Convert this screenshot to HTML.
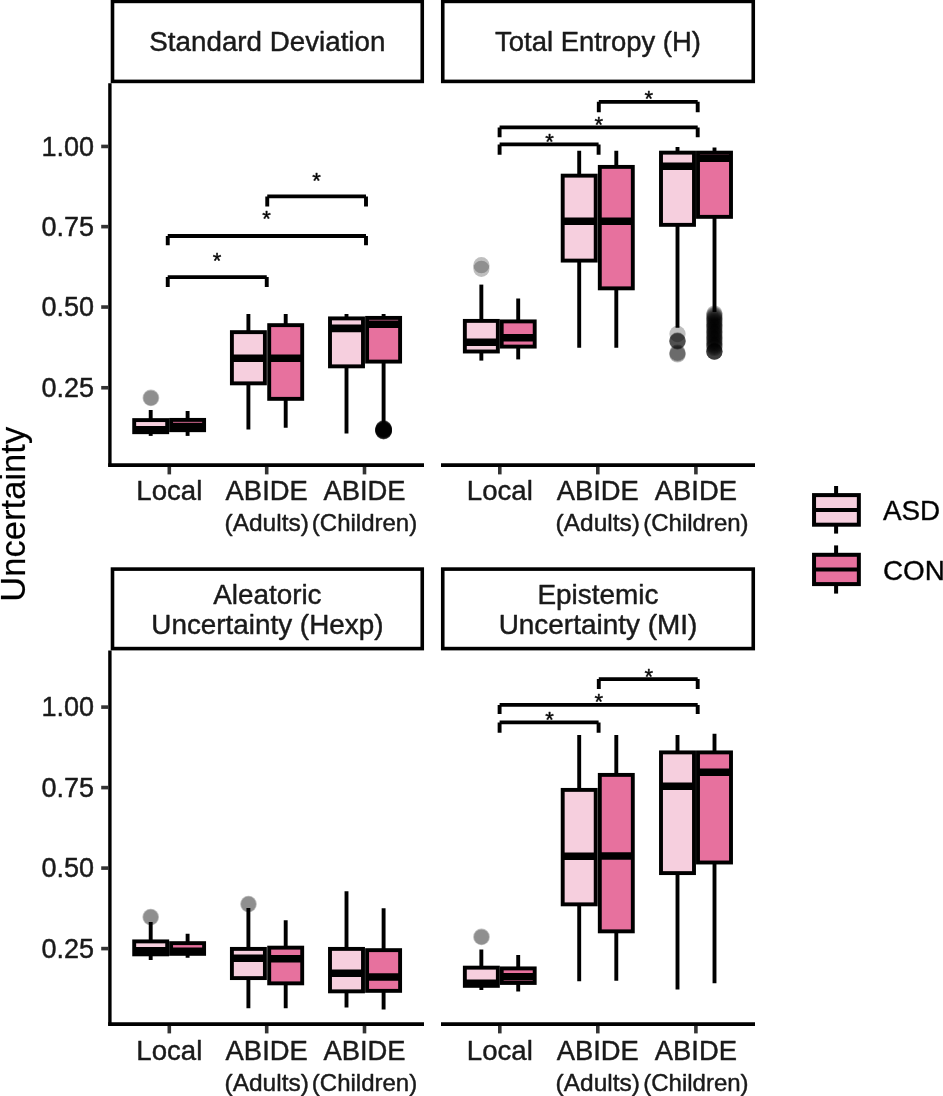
<!DOCTYPE html>
<html lang="en"><head><meta charset="utf-8"><title>Uncertainty boxplots</title>
<style>html,body{margin:0;padding:0;background:#fff}svg{display:block;will-change:transform}text{font-family:"Liberation Sans",sans-serif;stroke:#1a1a1a;stroke-width:0.45px;stroke-linejoin:round}</style></head><body>
<svg width="943" height="1096" viewBox="0 0 943 1096">
<rect width="943" height="1096" fill="#fff"/>
<text transform="translate(25.3 514.2) rotate(-90)" font-size="34.6" text-anchor="middle" fill="#000" style="stroke-width:0.2px">Uncertainty</text>
<g id="p1">
<rect x="112.5" y="1.4" width="309.75" height="80" fill="#fff" stroke="#000" stroke-width="3.6"/>
<text x="267.38" y="51.4" font-size="27.75" text-anchor="middle" fill="#1a1a1a">Standard Deviation</text>
<circle cx="150.9" cy="397.9" r="8.35" fill="#000" fill-opacity="0.25"/>
<circle cx="150.9" cy="397.9" r="7.5" fill="#000" fill-opacity="0.25"/>
<line x1="150.7" x2="150.7" y1="410" y2="420.1" stroke="#000" stroke-width="3.9"/>
<line x1="150.7" x2="150.7" y1="432.2" y2="435.9" stroke="#000" stroke-width="3.9"/>
<rect x="134.2" y="420.1" width="33" height="12.1" fill="#F6CFDE" stroke="#000" stroke-width="3.9"/>
<line x1="134.2" x2="167.2" y1="429.9" y2="429.9" stroke="#000" stroke-width="7.6"/>
<line x1="187.6" x2="187.6" y1="411" y2="419.9" stroke="#000" stroke-width="3.9"/>
<line x1="187.6" x2="187.6" y1="430.2" y2="435.9" stroke="#000" stroke-width="3.9"/>
<rect x="171.1" y="419.9" width="33" height="10.3" fill="#E7719E" stroke="#000" stroke-width="3.9"/>
<line x1="171.1" x2="204.1" y1="426.6" y2="426.6" stroke="#000" stroke-width="7.6"/>
<line x1="248.4" x2="248.4" y1="314" y2="332.15" stroke="#000" stroke-width="3.9"/>
<line x1="248.4" x2="248.4" y1="383.35" y2="429.5" stroke="#000" stroke-width="3.9"/>
<rect x="231.9" y="332.15" width="33" height="51.2" fill="#F6CFDE" stroke="#000" stroke-width="3.9"/>
<line x1="231.9" x2="264.9" y1="358.25" y2="358.25" stroke="#000" stroke-width="7.6"/>
<line x1="285.7" x2="285.7" y1="314" y2="325.15" stroke="#000" stroke-width="3.9"/>
<line x1="285.7" x2="285.7" y1="398.85" y2="427.75" stroke="#000" stroke-width="3.9"/>
<rect x="269.2" y="325.15" width="33" height="73.7" fill="#E7719E" stroke="#000" stroke-width="3.9"/>
<line x1="269.2" x2="302.2" y1="358.25" y2="358.25" stroke="#000" stroke-width="7.6"/>
<line x1="346.5" x2="346.5" y1="314" y2="318.4" stroke="#000" stroke-width="3.9"/>
<line x1="346.5" x2="346.5" y1="366.35" y2="433.5" stroke="#000" stroke-width="3.9"/>
<rect x="330" y="318.4" width="33" height="47.95" fill="#F6CFDE" stroke="#000" stroke-width="3.9"/>
<line x1="330" x2="363" y1="328.4" y2="328.4" stroke="#000" stroke-width="7.6"/>
<line x1="383.6" x2="383.6" y1="314" y2="317.9" stroke="#000" stroke-width="3.9"/>
<line x1="383.6" x2="383.6" y1="361.6" y2="424" stroke="#000" stroke-width="3.9"/>
<rect x="367.1" y="317.9" width="33" height="43.7" fill="#E7719E" stroke="#000" stroke-width="3.9"/>
<line x1="367.1" x2="400.1" y1="324.2" y2="324.2" stroke="#000" stroke-width="7.6"/>
<circle cx="383.6" cy="428.6" r="8.3" fill="#000" fill-opacity="0.44"/>
<circle cx="383.6" cy="429" r="8.3" fill="#000" fill-opacity="0.44"/>
<circle cx="383.6" cy="429.4" r="8.3" fill="#000" fill-opacity="0.44"/>
<circle cx="383.6" cy="429.8" r="8.3" fill="#000" fill-opacity="0.44"/>
<circle cx="383.6" cy="430.2" r="8.3" fill="#000" fill-opacity="0.44"/>
<circle cx="383.6" cy="430.6" r="8.3" fill="#000" fill-opacity="0.44"/>
<circle cx="383.6" cy="431" r="8.3" fill="#000" fill-opacity="0.44"/>
<circle cx="383.6" cy="431.2" r="8.3" fill="#000" fill-opacity="0.44"/>
<path d="M167.75 286.9V277.1M167.75 277.1H266.75M266.75 277.1V286.9" fill="none" stroke="#000" stroke-width="3.9"/>
<text x="217" y="267.8" font-size="22.0" text-anchor="middle" fill="#000">*</text>
<path d="M167.75 245.15V236M167.75 236H366M366 236V245.15" fill="none" stroke="#000" stroke-width="3.9"/>
<text x="266.5" y="226.3" font-size="22.0" text-anchor="middle" fill="#000">*</text>
<path d="M267.25 206.4V196.4M267.25 196.4H366M366 196.4V206.4" fill="none" stroke="#000" stroke-width="3.9"/>
<text x="316.5" y="187.55" font-size="22.0" text-anchor="middle" fill="#000">*</text>
<line x1="109.9" x2="109.9" y1="83.25" y2="466.8" stroke="#000" stroke-width="3.4"/>
<line x1="101.2" x2="108.4" y1="146.45" y2="146.45" stroke="#333" stroke-width="3.6"/>
<text x="94" y="155.6" font-size="27.0" text-anchor="end" fill="#1a1a1a">1.00</text>
<line x1="101.2" x2="108.4" y1="226.65" y2="226.65" stroke="#333" stroke-width="3.6"/>
<text x="94" y="235.8" font-size="27.0" text-anchor="end" fill="#1a1a1a">0.75</text>
<line x1="101.2" x2="108.4" y1="307.05" y2="307.05" stroke="#333" stroke-width="3.6"/>
<text x="94" y="316.2" font-size="27.0" text-anchor="end" fill="#1a1a1a">0.50</text>
<line x1="101.2" x2="108.4" y1="387.75" y2="387.75" stroke="#333" stroke-width="3.6"/>
<text x="94" y="396.9" font-size="27.0" text-anchor="end" fill="#1a1a1a">0.25</text>
<line x1="108.2" x2="424" y1="465.1" y2="465.1" stroke="#000" stroke-width="3.8"/>
<line x1="169.3" x2="169.3" y1="466.9" y2="474.4" stroke="#333" stroke-width="3.6"/>
<text x="169.3" y="500.3" font-size="27.6" text-anchor="middle" fill="#1a1a1a">Local</text>
<line x1="266.7" x2="266.7" y1="466.9" y2="474.4" stroke="#333" stroke-width="3.6"/>
<text x="266.7" y="500.3" font-size="27.4" text-anchor="middle" fill="#1a1a1a">ABIDE</text>
<text x="266.7" y="530.9" font-size="24.5" text-anchor="middle" fill="#1a1a1a">(Adults)</text>
<line x1="364.5" x2="364.5" y1="466.9" y2="474.4" stroke="#333" stroke-width="3.6"/>
<text x="364.5" y="500.3" font-size="27.4" text-anchor="middle" fill="#1a1a1a">ABIDE</text>
<text x="364.5" y="530.9" font-size="24.0" text-anchor="middle" fill="#1a1a1a">(Children)</text>
</g>
<g id="p2">
<rect x="442.75" y="1.4" width="310.5" height="80" fill="#fff" stroke="#000" stroke-width="3.6"/>
<text x="598" y="51.4" font-size="27.45" text-anchor="middle" fill="#1a1a1a">Total Entropy (H)</text>
<circle cx="481.4" cy="265.15" r="8.1" fill="#000" fill-opacity="0.25"/>
<circle cx="481.4" cy="268.85" r="8.1" fill="#000" fill-opacity="0.25"/>
<line x1="481.35" x2="481.35" y1="284.6" y2="320.9" stroke="#000" stroke-width="3.9"/>
<line x1="481.35" x2="481.35" y1="351.5" y2="360.6" stroke="#000" stroke-width="3.9"/>
<rect x="464.85" y="320.9" width="33" height="30.6" fill="#F6CFDE" stroke="#000" stroke-width="3.9"/>
<line x1="464.85" x2="497.85" y1="342.25" y2="342.25" stroke="#000" stroke-width="7.6"/>
<line x1="518.2" x2="518.2" y1="298.5" y2="321.4" stroke="#000" stroke-width="3.9"/>
<line x1="518.2" x2="518.2" y1="346.6" y2="359.4" stroke="#000" stroke-width="3.9"/>
<rect x="501.7" y="321.4" width="33" height="25.2" fill="#E7719E" stroke="#000" stroke-width="3.9"/>
<line x1="501.7" x2="534.7" y1="337.8" y2="337.8" stroke="#000" stroke-width="7.6"/>
<line x1="579.2" x2="579.2" y1="150.75" y2="175.65" stroke="#000" stroke-width="3.9"/>
<line x1="579.2" x2="579.2" y1="260.6" y2="347.75" stroke="#000" stroke-width="3.9"/>
<rect x="562.7" y="175.65" width="33" height="84.95" fill="#F6CFDE" stroke="#000" stroke-width="3.9"/>
<line x1="562.7" x2="595.7" y1="221.25" y2="221.25" stroke="#000" stroke-width="7.6"/>
<line x1="616.3" x2="616.3" y1="150.75" y2="166.9" stroke="#000" stroke-width="3.9"/>
<line x1="616.3" x2="616.3" y1="288.35" y2="347.75" stroke="#000" stroke-width="3.9"/>
<rect x="599.8" y="166.9" width="33" height="121.45" fill="#E7719E" stroke="#000" stroke-width="3.9"/>
<line x1="599.8" x2="632.8" y1="221.25" y2="221.25" stroke="#000" stroke-width="7.6"/>
<line x1="677.5" x2="677.5" y1="147" y2="152.65" stroke="#000" stroke-width="3.9"/>
<line x1="677.5" x2="677.5" y1="224.85" y2="327.75" stroke="#000" stroke-width="3.9"/>
<rect x="661" y="152.65" width="33" height="72.2" fill="#F6CFDE" stroke="#000" stroke-width="3.9"/>
<line x1="661" x2="694" y1="166.25" y2="166.25" stroke="#000" stroke-width="7.6"/>
<line x1="714.5" x2="714.5" y1="147.5" y2="152.65" stroke="#000" stroke-width="3.9"/>
<line x1="714.5" x2="714.5" y1="216.85" y2="312" stroke="#000" stroke-width="3.9"/>
<rect x="698" y="152.65" width="33" height="64.2" fill="#E7719E" stroke="#000" stroke-width="3.9"/>
<line x1="698" x2="731" y1="158.3" y2="158.3" stroke="#000" stroke-width="7.6"/>
<circle cx="677.5" cy="334" r="8.15" fill="#000" fill-opacity="0.25"/>
<circle cx="677.5" cy="340.4" r="8.15" fill="#000" fill-opacity="0.25"/>
<circle cx="677.5" cy="340.8" r="8.15" fill="#000" fill-opacity="0.25"/>
<circle cx="677.5" cy="341.2" r="8.15" fill="#000" fill-opacity="0.25"/>
<circle cx="677.5" cy="341.6" r="8.15" fill="#000" fill-opacity="0.25"/>
<circle cx="677.5" cy="352.6" r="8.15" fill="#000" fill-opacity="0.25"/>
<circle cx="677.5" cy="353.4" r="8.15" fill="#000" fill-opacity="0.25"/>
<circle cx="677.5" cy="354.4" r="8.15" fill="#000" fill-opacity="0.25"/>
<circle cx="714.4" cy="313.6" r="8.1" fill="#000" fill-opacity="0.25"/>
<circle cx="714.4" cy="314.79" r="8.1" fill="#000" fill-opacity="0.25"/>
<circle cx="714.4" cy="315.97" r="8.1" fill="#000" fill-opacity="0.25"/>
<circle cx="714.4" cy="317.16" r="8.1" fill="#000" fill-opacity="0.25"/>
<circle cx="714.4" cy="318.34" r="8.1" fill="#000" fill-opacity="0.25"/>
<circle cx="714.4" cy="319.53" r="8.1" fill="#000" fill-opacity="0.25"/>
<circle cx="714.4" cy="320.72" r="8.1" fill="#000" fill-opacity="0.25"/>
<circle cx="714.4" cy="321.9" r="8.1" fill="#000" fill-opacity="0.25"/>
<circle cx="714.4" cy="323.09" r="8.1" fill="#000" fill-opacity="0.25"/>
<circle cx="714.4" cy="324.28" r="8.1" fill="#000" fill-opacity="0.25"/>
<circle cx="714.4" cy="325.46" r="8.1" fill="#000" fill-opacity="0.25"/>
<circle cx="714.4" cy="326.65" r="8.1" fill="#000" fill-opacity="0.25"/>
<circle cx="714.4" cy="327.83" r="8.1" fill="#000" fill-opacity="0.25"/>
<circle cx="714.4" cy="329.02" r="8.1" fill="#000" fill-opacity="0.25"/>
<circle cx="714.4" cy="330.21" r="8.1" fill="#000" fill-opacity="0.25"/>
<circle cx="714.4" cy="331.39" r="8.1" fill="#000" fill-opacity="0.25"/>
<circle cx="714.4" cy="332.58" r="8.1" fill="#000" fill-opacity="0.25"/>
<circle cx="714.4" cy="333.77" r="8.1" fill="#000" fill-opacity="0.25"/>
<circle cx="714.4" cy="334.95" r="8.1" fill="#000" fill-opacity="0.25"/>
<circle cx="714.4" cy="336.14" r="8.1" fill="#000" fill-opacity="0.25"/>
<circle cx="714.4" cy="337.32" r="8.1" fill="#000" fill-opacity="0.25"/>
<circle cx="714.4" cy="338.51" r="8.1" fill="#000" fill-opacity="0.25"/>
<circle cx="714.4" cy="339.7" r="8.1" fill="#000" fill-opacity="0.25"/>
<circle cx="714.4" cy="340.88" r="8.1" fill="#000" fill-opacity="0.25"/>
<circle cx="714.4" cy="342.07" r="8.1" fill="#000" fill-opacity="0.25"/>
<circle cx="714.4" cy="343.26" r="8.1" fill="#000" fill-opacity="0.25"/>
<circle cx="714.4" cy="344.44" r="8.1" fill="#000" fill-opacity="0.25"/>
<circle cx="714.4" cy="345.63" r="8.1" fill="#000" fill-opacity="0.25"/>
<circle cx="714.4" cy="346.81" r="8.1" fill="#000" fill-opacity="0.25"/>
<circle cx="714.4" cy="348" r="8.1" fill="#000" fill-opacity="0.25"/>
<circle cx="714.4" cy="351.4" r="8.1" fill="#000" fill-opacity="0.25"/>
<circle cx="714.4" cy="351.5" r="8.1" fill="#000" fill-opacity="0.25"/>
<circle cx="714.4" cy="351.6" r="8.1" fill="#000" fill-opacity="0.25"/>
<circle cx="714.4" cy="351.7" r="8.1" fill="#000" fill-opacity="0.25"/>
<circle cx="714.4" cy="351.8" r="8.1" fill="#000" fill-opacity="0.25"/>
<path d="M499.6 154.65V144.4M499.6 144.4H598.6M598.6 144.4V154.65" fill="none" stroke="#000" stroke-width="3.9"/>
<text x="549.5" y="149.3" font-size="22.0" text-anchor="middle" fill="#000">*</text>
<path d="M499.6 137.15V127.4M499.6 127.4H697.7M697.7 127.4V137.15" fill="none" stroke="#000" stroke-width="3.9"/>
<text x="598.8" y="132.2" font-size="22.0" text-anchor="middle" fill="#000">*</text>
<path d="M598.8 112.15V101.85M598.8 101.85H697.7M697.7 101.85V112.15" fill="none" stroke="#000" stroke-width="3.9"/>
<text x="648.7" y="106.4" font-size="22.0" text-anchor="middle" fill="#000">*</text>
<line x1="441" x2="755" y1="465.1" y2="465.1" stroke="#000" stroke-width="3.8"/>
<line x1="499.8" x2="499.8" y1="466.9" y2="474.4" stroke="#333" stroke-width="3.6"/>
<text x="499.8" y="500.3" font-size="27.6" text-anchor="middle" fill="#1a1a1a">Local</text>
<line x1="597.8" x2="597.8" y1="466.9" y2="474.4" stroke="#333" stroke-width="3.6"/>
<text x="597.8" y="500.3" font-size="27.4" text-anchor="middle" fill="#1a1a1a">ABIDE</text>
<text x="597.8" y="530.9" font-size="24.5" text-anchor="middle" fill="#1a1a1a">(Adults)</text>
<line x1="695.9" x2="695.9" y1="466.9" y2="474.4" stroke="#333" stroke-width="3.6"/>
<text x="695.9" y="500.3" font-size="27.4" text-anchor="middle" fill="#1a1a1a">ABIDE</text>
<text x="695.9" y="530.9" font-size="24.0" text-anchor="middle" fill="#1a1a1a">(Children)</text>
</g>
<g id="p3">
<rect x="112.5" y="569.1" width="309.75" height="79.5" fill="#fff" stroke="#000" stroke-width="3.6"/>
<text x="267.38" y="603.5" font-size="27.85" text-anchor="middle" fill="#1a1a1a">Aleatoric</text>
<text x="267.38" y="633.75" font-size="27.85" text-anchor="middle" fill="#1a1a1a">Uncertainty (Hexp)</text>
<circle cx="150.7" cy="917.1" r="8.35" fill="#000" fill-opacity="0.25"/>
<circle cx="150.7" cy="917.1" r="7.5" fill="#000" fill-opacity="0.25"/>
<line x1="150.7" x2="150.7" y1="922" y2="941.4" stroke="#000" stroke-width="3.9"/>
<line x1="150.7" x2="150.7" y1="954.35" y2="960" stroke="#000" stroke-width="3.9"/>
<rect x="134.2" y="941.4" width="33" height="12.95" fill="#F6CFDE" stroke="#000" stroke-width="3.9"/>
<line x1="134.2" x2="167.2" y1="950.8" y2="950.8" stroke="#000" stroke-width="7.6"/>
<line x1="187.6" x2="187.6" y1="933.75" y2="943.15" stroke="#000" stroke-width="3.9"/>
<line x1="187.6" x2="187.6" y1="953.85" y2="957.75" stroke="#000" stroke-width="3.9"/>
<rect x="171.1" y="943.15" width="33" height="10.7" fill="#E7719E" stroke="#000" stroke-width="3.9"/>
<line x1="171.1" x2="204.1" y1="951.3" y2="951.3" stroke="#000" stroke-width="7.6"/>
<circle cx="248.5" cy="904.1" r="8.35" fill="#000" fill-opacity="0.25"/>
<circle cx="248.5" cy="904.1" r="7.5" fill="#000" fill-opacity="0.25"/>
<line x1="248.4" x2="248.4" y1="908" y2="948.9" stroke="#000" stroke-width="3.9"/>
<line x1="248.4" x2="248.4" y1="978.1" y2="1008.25" stroke="#000" stroke-width="3.9"/>
<rect x="231.9" y="948.9" width="33" height="29.2" fill="#F6CFDE" stroke="#000" stroke-width="3.9"/>
<line x1="231.9" x2="264.9" y1="958.25" y2="958.25" stroke="#000" stroke-width="7.6"/>
<line x1="285.7" x2="285.7" y1="920.25" y2="947.65" stroke="#000" stroke-width="3.9"/>
<line x1="285.7" x2="285.7" y1="983.35" y2="1008.25" stroke="#000" stroke-width="3.9"/>
<rect x="269.2" y="947.65" width="33" height="35.7" fill="#E7719E" stroke="#000" stroke-width="3.9"/>
<line x1="269.2" x2="302.2" y1="958.75" y2="958.75" stroke="#000" stroke-width="7.6"/>
<line x1="346.5" x2="346.5" y1="891.25" y2="948.9" stroke="#000" stroke-width="3.9"/>
<line x1="346.5" x2="346.5" y1="991.35" y2="1007.5" stroke="#000" stroke-width="3.9"/>
<rect x="330" y="948.9" width="33" height="42.45" fill="#F6CFDE" stroke="#000" stroke-width="3.9"/>
<line x1="330" x2="363" y1="973.25" y2="973.25" stroke="#000" stroke-width="7.6"/>
<line x1="383.6" x2="383.6" y1="908.25" y2="950.15" stroke="#000" stroke-width="3.9"/>
<line x1="383.6" x2="383.6" y1="990.85" y2="1009.5" stroke="#000" stroke-width="3.9"/>
<rect x="367.1" y="950.15" width="33" height="40.7" fill="#E7719E" stroke="#000" stroke-width="3.9"/>
<line x1="367.1" x2="400.1" y1="977" y2="977" stroke="#000" stroke-width="7.6"/>
<line x1="109.9" x2="109.9" y1="650.5" y2="1025.8" stroke="#000" stroke-width="3.4"/>
<line x1="101.2" x2="108.4" y1="707.1" y2="707.1" stroke="#333" stroke-width="3.6"/>
<text x="94" y="716.25" font-size="27.0" text-anchor="end" fill="#1a1a1a">1.00</text>
<line x1="101.2" x2="108.4" y1="787.6" y2="787.6" stroke="#333" stroke-width="3.6"/>
<text x="94" y="796.75" font-size="27.0" text-anchor="end" fill="#1a1a1a">0.75</text>
<line x1="101.2" x2="108.4" y1="868.1" y2="868.1" stroke="#333" stroke-width="3.6"/>
<text x="94" y="877.25" font-size="27.0" text-anchor="end" fill="#1a1a1a">0.50</text>
<line x1="101.2" x2="108.4" y1="948.6" y2="948.6" stroke="#333" stroke-width="3.6"/>
<text x="94" y="957.75" font-size="27.0" text-anchor="end" fill="#1a1a1a">0.25</text>
<line x1="108.2" x2="424" y1="1024.1" y2="1024.1" stroke="#000" stroke-width="3.8"/>
<line x1="169.3" x2="169.3" y1="1025.9" y2="1033.4" stroke="#333" stroke-width="3.6"/>
<text x="169.3" y="1060.1" font-size="27.6" text-anchor="middle" fill="#1a1a1a">Local</text>
<line x1="266.7" x2="266.7" y1="1025.9" y2="1033.4" stroke="#333" stroke-width="3.6"/>
<text x="266.7" y="1060.1" font-size="27.4" text-anchor="middle" fill="#1a1a1a">ABIDE</text>
<text x="266.7" y="1090.6" font-size="24.5" text-anchor="middle" fill="#1a1a1a">(Adults)</text>
<line x1="364.5" x2="364.5" y1="1025.9" y2="1033.4" stroke="#333" stroke-width="3.6"/>
<text x="364.5" y="1060.1" font-size="27.4" text-anchor="middle" fill="#1a1a1a">ABIDE</text>
<text x="364.5" y="1090.6" font-size="24.0" text-anchor="middle" fill="#1a1a1a">(Children)</text>
</g>
<g id="p4">
<rect x="442.75" y="569.1" width="310.5" height="79.5" fill="#fff" stroke="#000" stroke-width="3.6"/>
<text x="598" y="603.5" font-size="27.95" text-anchor="middle" fill="#1a1a1a">Epistemic</text>
<text x="598" y="633.75" font-size="27.95" text-anchor="middle" fill="#1a1a1a">Uncertainty (MI)</text>
<circle cx="481.5" cy="936.9" r="8.35" fill="#000" fill-opacity="0.25"/>
<circle cx="481.5" cy="936.9" r="7.5" fill="#000" fill-opacity="0.25"/>
<line x1="481.35" x2="481.35" y1="949.5" y2="967.65" stroke="#000" stroke-width="3.9"/>
<line x1="481.35" x2="481.35" y1="985.85" y2="990" stroke="#000" stroke-width="3.9"/>
<rect x="464.85" y="967.65" width="33" height="18.2" fill="#F6CFDE" stroke="#000" stroke-width="3.9"/>
<line x1="464.85" x2="497.85" y1="983.3" y2="983.3" stroke="#000" stroke-width="7.6"/>
<line x1="518.2" x2="518.2" y1="955" y2="968.4" stroke="#000" stroke-width="3.9"/>
<line x1="518.2" x2="518.2" y1="982.95" y2="991.5" stroke="#000" stroke-width="3.9"/>
<rect x="501.7" y="968.4" width="33" height="14.55" fill="#E7719E" stroke="#000" stroke-width="3.9"/>
<line x1="501.7" x2="534.7" y1="976.8" y2="976.8" stroke="#000" stroke-width="7.6"/>
<line x1="579.2" x2="579.2" y1="735" y2="789.9" stroke="#000" stroke-width="3.9"/>
<line x1="579.2" x2="579.2" y1="904.35" y2="981.25" stroke="#000" stroke-width="3.9"/>
<rect x="562.7" y="789.9" width="33" height="114.45" fill="#F6CFDE" stroke="#000" stroke-width="3.9"/>
<line x1="562.7" x2="595.7" y1="856.25" y2="856.25" stroke="#000" stroke-width="7.6"/>
<line x1="616.3" x2="616.3" y1="735" y2="774.9" stroke="#000" stroke-width="3.9"/>
<line x1="616.3" x2="616.3" y1="931.35" y2="980.75" stroke="#000" stroke-width="3.9"/>
<rect x="599.8" y="774.9" width="33" height="156.45" fill="#E7719E" stroke="#000" stroke-width="3.9"/>
<line x1="599.8" x2="632.8" y1="856" y2="856" stroke="#000" stroke-width="7.6"/>
<line x1="677.5" x2="677.5" y1="735" y2="752.4" stroke="#000" stroke-width="3.9"/>
<line x1="677.5" x2="677.5" y1="873.1" y2="989.5" stroke="#000" stroke-width="3.9"/>
<rect x="661" y="752.4" width="33" height="120.7" fill="#F6CFDE" stroke="#000" stroke-width="3.9"/>
<line x1="661" x2="694" y1="786.3" y2="786.3" stroke="#000" stroke-width="7.6"/>
<line x1="714.5" x2="714.5" y1="733.75" y2="752.4" stroke="#000" stroke-width="3.9"/>
<line x1="714.5" x2="714.5" y1="862.5" y2="983.25" stroke="#000" stroke-width="3.9"/>
<rect x="698" y="752.4" width="33" height="110.1" fill="#E7719E" stroke="#000" stroke-width="3.9"/>
<line x1="698" x2="731" y1="772.3" y2="772.3" stroke="#000" stroke-width="7.6"/>
<path d="M499.6 732.65V722.4M499.6 722.4H598.6M598.6 722.4V732.65" fill="none" stroke="#000" stroke-width="3.9"/>
<text x="549.5" y="726.55" font-size="22.0" text-anchor="middle" fill="#000">*</text>
<path d="M499.6 713.9V704.9M499.6 704.9H697.7M697.7 704.9V713.9" fill="none" stroke="#000" stroke-width="3.9"/>
<text x="598.8" y="708.55" font-size="22.0" text-anchor="middle" fill="#000">*</text>
<path d="M598.8 688.9V679.1M598.8 679.1H697.7M697.7 679.1V688.9" fill="none" stroke="#000" stroke-width="3.9"/>
<text x="648.7" y="683.55" font-size="22.0" text-anchor="middle" fill="#000">*</text>
<line x1="441" x2="755" y1="1024.1" y2="1024.1" stroke="#000" stroke-width="3.8"/>
<line x1="499.8" x2="499.8" y1="1025.9" y2="1033.4" stroke="#333" stroke-width="3.6"/>
<text x="499.8" y="1060.1" font-size="27.6" text-anchor="middle" fill="#1a1a1a">Local</text>
<line x1="597.8" x2="597.8" y1="1025.9" y2="1033.4" stroke="#333" stroke-width="3.6"/>
<text x="597.8" y="1060.1" font-size="27.4" text-anchor="middle" fill="#1a1a1a">ABIDE</text>
<text x="597.8" y="1090.6" font-size="24.5" text-anchor="middle" fill="#1a1a1a">(Adults)</text>
<line x1="695.9" x2="695.9" y1="1025.9" y2="1033.4" stroke="#333" stroke-width="3.6"/>
<text x="695.9" y="1060.1" font-size="27.4" text-anchor="middle" fill="#1a1a1a">ABIDE</text>
<text x="695.9" y="1090.6" font-size="24.0" text-anchor="middle" fill="#1a1a1a">(Children)</text>
</g>
<g id="legend">
<line x1="836.1" x2="836.1" y1="486" y2="533.6" stroke="#000" stroke-width="4"/>
<rect x="814.05" y="495.1" width="44.8" height="29.6" fill="#F6CFDE" stroke="#000" stroke-width="4"/>
<line x1="814" x2="858.9" y1="509.9" y2="509.9" stroke="#000" stroke-width="4"/>
<text x="883" y="519.9" font-size="27.8" fill="#000">ASD</text>
<line x1="836.1" x2="836.1" y1="545.4" y2="593.6" stroke="#000" stroke-width="4"/>
<rect x="814.05" y="554.8" width="44.8" height="29.3" fill="#E7719E" stroke="#000" stroke-width="4"/>
<line x1="814" x2="858.9" y1="569.6" y2="569.6" stroke="#000" stroke-width="4"/>
<text x="883" y="580" font-size="27.8" fill="#000">CON</text>
</g>
</svg></body></html>
